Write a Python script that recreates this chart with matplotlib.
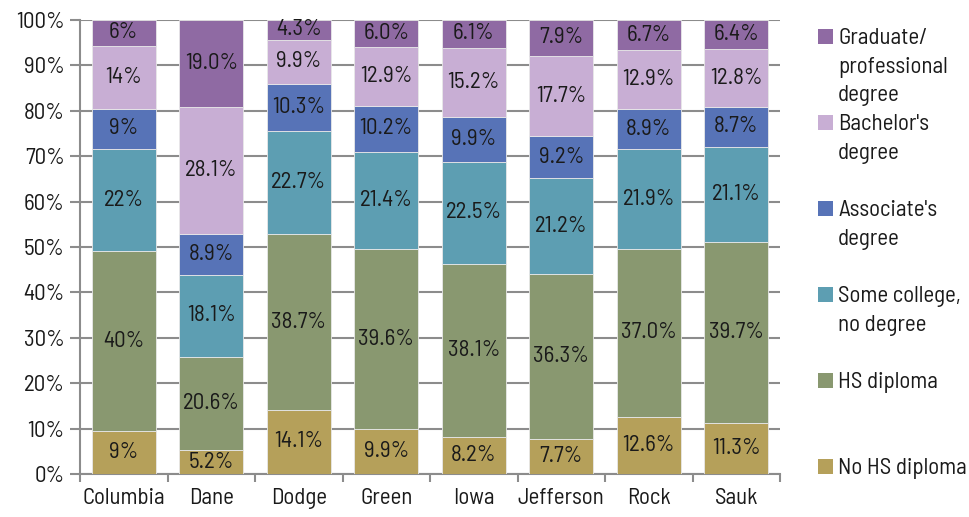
import matplotlib.pyplot as plt
from matplotlib.patches import Rectangle
from matplotlib.ticker import FixedLocator, PercentFormatter

counties = ["Columbia", "Dane", "Dodge", "Green", "Iowa", "Jefferson", "Rock", "Sauk"]
levels = ["No HS diploma", "HS diploma", "Some college,\nno degree",
          "Associate's\ndegree", "Bachelor's\ndegree", "Graduate/\nprofessional\ndegree"]

no_hs = [9.4, 5.2, 14.1, 9.9, 8.2, 7.7, 12.6, 11.3]
hs_diploma = [39.7, 20.6, 38.7, 39.6, 38.1, 36.3, 37.0, 39.7]
some_college = [22.4, 18.1, 22.7, 21.4, 22.5, 21.2, 21.9, 21.1]
associate = [9.0, 8.9, 10.3, 10.2, 9.9, 9.2, 8.9, 8.7]
bachelor = [13.8, 28.1, 9.9, 12.9, 15.2, 17.7, 12.9, 12.8]
graduate = [5.7, 19.0, 4.3, 6.0, 6.1, 7.9, 6.7, 6.4]
# Columbia's labels are shown rounded to whole percents
label_decimals = [0, 1, 1, 1, 1, 1, 1, 1]

series = [no_hs, hs_diploma, some_college, associate, bachelor, graduate]
colors = ["#B5A05A", "#899870", "#5D9EB2", "#5773B7", "#C8AED4", "#8F6AA3"]

plt.rcParams["font.family"] = ["Barlow Semi Condensed", "DejaVu Sans"]
FS = 16.5

fig = plt.figure(figsize=(9.69, 5.17), dpi=100)
ax = fig.add_axes([80 / 969, 43 / 517, 700 / 969, 454 / 517])

x = list(range(len(counties)))
bottoms = [0.0] * len(counties)
for vals, col in zip(series, colors):
    ax.bar(x, vals, width=0.73, bottom=bottoms, color=col,
           edgecolor="#E8E8E8", linewidth=0.6, zorder=3)
    for i, (b, v) in enumerate(zip(bottoms, vals)):
        txt = f"{v:.{label_decimals[i]}f}%"
        ax.text(i, b + v / 2, txt, ha="center", va="center",
                fontsize=FS, color="#1A1A1A", zorder=4)
    bottoms = [b + v for b, v in zip(bottoms, vals)]

ax.set_xlim(-0.5, len(counties) - 0.5)
ax.set_ylim(0, 100)
ax.yaxis.set_major_locator(FixedLocator(range(0, 101, 10)))
ax.yaxis.set_major_formatter(PercentFormatter(decimals=0))
ax.set_xticks(x)
ax.set_xticklabels(counties)
ax.xaxis.set_minor_locator(FixedLocator([i - 0.5 for i in range(len(counties) + 1)]))
ax.tick_params(axis="x", which="major", length=0, pad=10, labelsize=FS,
               labelcolor="#1A1A1A")
ax.tick_params(axis="x", which="minor", length=6, width=1.5, color="#8C8C8C")
ax.tick_params(axis="y", length=7, width=1.5, color="#8C8C8C", labelsize=FS, pad=4,
               labelcolor="#1A1A1A")

ax.grid(axis="y", color="#8C8C8C", linewidth=1.5, zorder=0)
for side in ["top", "right"]:
    ax.spines[side].set_visible(False)
for side in ["left", "bottom"]:
    ax.spines[side].set_color("#8C8C8C")
    ax.spines[side].set_linewidth(1.5)

# legend, drawn top to bottom (reverse stacking order)
leg_top = 36
leg_step = 86
for k, (name, col) in enumerate(zip(levels[::-1], colors[::-1])):
    yc = leg_top + k * leg_step
    fig.patches.append(Rectangle((818 / 969, 1 - (yc + 7.5) / 517), 15 / 969, 15 / 517,
                                 transform=fig.transFigure, facecolor=col,
                                 edgecolor="none"))
    fig.text(838 / 969, 1 - (yc - 8) / 517, name, ha="left", va="top",
             fontsize=FS, linespacing=1.47, color="#1A1A1A")

fig.savefig("out.png", dpi=100)
